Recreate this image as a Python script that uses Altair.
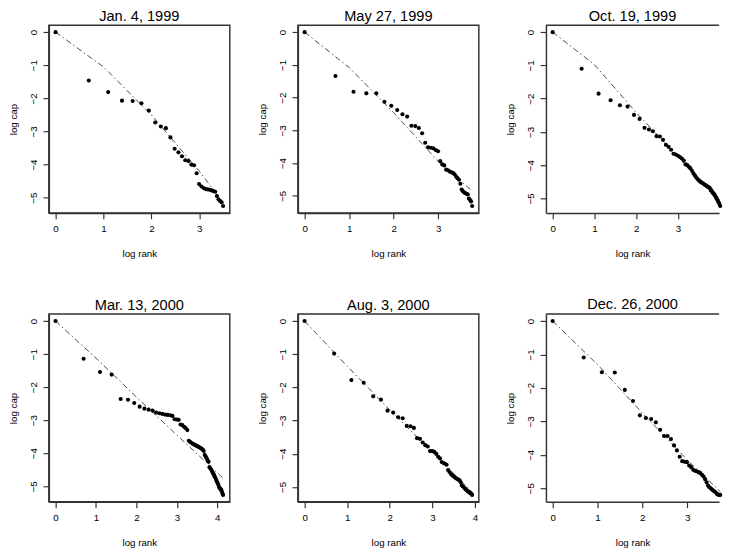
import altair as alt
import numpy as np
import pandas as pd

# ---- data (log cap by rank; x = log rank) ----
titles = ["Jan. 4, 1999", "May 27, 1999", "Oct. 19, 1999",
          "Mar. 13, 2000", "Aug. 3, 2000", "Dec. 26, 2000"]

cap_jan99 = [0, -1.46, -1.81, -2.07, -2.08, -2.15, -2.37, -2.73, -2.85, -2.90,
             -3.18, -3.52, -3.63, -3.75, -3.87, -3.89, -4.00, -4.02, -4.26, -4.59,
             -4.66, -4.71, -4.74, -4.75, -4.76, -4.78, -4.80, -4.82, -4.95, -5.05,
             -5.10, -5.14, -5.25]
cap_may99 = [0, -1.34, -1.82, -1.87, -1.87, -2.13, -2.25, -2.38, -2.51, -2.58,
             -2.86, -2.87, -2.93, -3.09, -3.38, -3.52, -3.53, -3.55, -3.60, -3.64,
             -3.94, -4.04, -4.07, -4.20, -4.22, -4.26, -4.28, -4.30, -4.34, -4.41,
             -4.46, -4.51, -4.63, -4.81, -4.86, -4.90, -4.92, -4.94, -4.96, -5.08,
             -5.13, -5.17, -5.31]
cap_oct99 = [0, -1.10, -1.85, -2.05, -2.20, -2.24, -2.49, -2.61, -2.88, -2.93,
             -2.98, -3.13, -3.14, -3.24, -3.39, -3.45, -3.54, -3.66, -3.68, -3.72,
             -3.76, -3.80, -3.86, -3.98, -4.00, -4.05, -4.10, -4.17, -4.25, -4.31,
             -4.37, -4.42, -4.46, -4.49, -4.52, -4.54, -4.56, -4.59, -4.61, -4.63,
             -4.65, -4.67, -4.70, -4.74, -4.79, -4.83, -4.86, -4.89, -4.94, -4.98,
             -5.03, -5.07, -5.12, -5.17, -5.23]
cap_mar00 = [0, -1.14, -1.54, -1.62, -2.36, -2.38, -2.48, -2.59, -2.65, -2.68,
             -2.71, -2.77, -2.79, -2.81, -2.83, -2.84, -2.85, -2.87, -2.97, -2.98,
             -2.99, -3.13, -3.15, -3.20, -3.24, -3.30, -3.62, -3.66, -3.69, -3.72,
             -3.74, -3.76, -3.78, -3.80, -3.82, -3.84, -3.86, -3.89, -3.93, -4.05,
             -4.10, -4.15, -4.22, -4.26, -4.42, -4.46, -4.50, -4.55, -4.60, -4.64,
             -4.70, -4.74, -4.80, -4.86, -4.90, -4.95, -5.02, -5.05, -5.08, -5.10,
             -5.15, -5.22, -5.26]
cap_aug00 = [0, -0.98, -1.78, -1.86, -2.27, -2.37, -2.70, -2.76, -2.90, -2.93,
             -3.16, -3.17, -3.22, -3.53, -3.55, -3.66, -3.74, -3.78, -3.92, -3.92,
             -3.94, -4.00, -4.09, -4.14, -4.25, -4.28, -4.30, -4.33, -4.49, -4.55,
             -4.61, -4.65, -4.68, -4.71, -4.74, -4.76, -4.78, -4.80, -4.86, -4.95,
             -4.98, -5.01, -5.05, -5.08, -5.10, -5.13, -5.15, -5.17, -5.19, -5.21,
             -5.24]
cap_dec00 = [0, -1.09, -1.53, -1.54, -2.06, -2.39, -2.82, -2.90, -2.93, -3.03,
             -3.25, -3.44, -3.44, -3.53, -3.72, -3.87, -4.06, -4.19, -4.21, -4.22,
             -4.32, -4.37, -4.45, -4.48, -4.50, -4.52, -4.55, -4.60, -4.65, -4.73,
             -4.82, -4.92, -4.97, -5.00, -5.04, -5.07, -5.10, -5.12, -5.17, -5.19,
             -5.20, -5.20]

# fitted reference curves (dash-dot), vertices
fit_x = [[0, 1, 2, 3, 3.50],
         [0, 1, 2, 3, 3.76],
         [0, 1, 2, 3, 4.01],
         [0, 1, 2, 3, 4.14],
         [0, 1, 2, 3, 3.93],
         [0, 1, 2, 3, 3.74]]
fit_y = [[0, -1.05, -2.50, -4.20, -5.15],
         [0, -1.08, -2.46, -3.95, -4.85],
         [0, -0.98, -2.42, -3.75, -5.15],
         [0, -1.12, -2.30, -3.45, -4.75],
         [0, -1.36, -2.68, -3.95, -5.15],
         [0, -1.30, -2.75, -4.15, -5.10]]

caps = [cap_jan99, cap_may99, cap_oct99, cap_mar00, cap_aug00, cap_dec00]
cropped = [False, False, True, False, False, True]

W, H = 186, 193
W_CROP = 178
FONT = "Liberation Sans"
FRAME = "#333333"
ONE = pd.DataFrame({"k": [0]})


def panel(i):
    ys = caps[i]
    n = len(ys)
    pts = pd.DataFrame({"rank": list(range(1, n + 1)), "cap": ys})
    fit = pd.DataFrame({"x": fit_x[i], "y": fit_y[i]})

    xmax = float(np.log(n))
    xlo, xhi = -0.04 * xmax, 1.04 * xmax
    width = W
    if cropped[i]:
        width = W_CROP
        xhi = xlo + (xhi - xlo) * W_CROP / W
    ymin = min(ys)
    ylo, yhi = ymin * 1.04, -0.04 * ymin

    xticks = [t for t in range(0, 5) if t <= xhi]
    xscale = alt.Scale(domain=[xlo, xhi], nice=False, zero=False)
    yscale = alt.Scale(domain=[ylo, yhi], nice=False, zero=False)
    xaxis = alt.Axis(values=xticks, title="log rank", format="d",
                     labelOverlap=False, minExtent=22, maxExtent=22, titlePadding=15)
    yaxis = alt.Axis(values=[0, -1, -2, -3, -4, -5], title="log cap", format="d",
                     labelOverlap=False, labelAngle=270,
                     minExtent=20, maxExtent=20, titlePadding=11)

    line = alt.Chart(fit).mark_line(color="#333333", strokeWidth=0.9,
                                    strokeDash=[6, 3, 1.5, 3]).encode(
        x=alt.X("x:Q", scale=xscale, axis=xaxis),
        y=alt.Y("y:Q", scale=yscale, axis=yaxis),
    )
    dots = alt.Chart(pts).transform_calculate(
        logrank="log(datum.rank)"
    ).mark_point(filled=True, color="black", size=18, opacity=1).encode(
        x=alt.X("logrank:Q", scale=xscale, axis=xaxis),
        y=alt.Y("cap:Q", scale=yscale, axis=yaxis),
    )
    layers = [line, dots]
    props = dict(width=width, height=H,
                 title=alt.TitleParams(titles[i], fontSize=15, font=FONT,
                                       fontWeight="normal", color="black", offset=1))
    if cropped[i]:
        # box cut off by the picture's right edge: no right side
        layers.append(alt.Chart(ONE).mark_rule(color=FRAME, strokeWidth=1.5).encode(
            x=alt.value(0), x2=alt.value(width), y=alt.value(0)))
        props["view"] = alt.ViewBackground(strokeOpacity=0)
    return alt.layer(*layers).properties(**props)


row1 = alt.hconcat(panel(0), panel(1), panel(2), spacing=27)
row2 = alt.hconcat(panel(3), panel(4), panel(5), spacing=27)

chart = alt.vconcat(row1, row2, spacing=39).properties(
    padding={"top": -7, "left": 0, "right": 0, "bottom": 0}, background="white"
).configure_view(
    stroke=FRAME, strokeWidth=1.5
).configure_axis(
    grid=False, domain=True, domainColor=FRAME, domainWidth=1.5,
    tickColor=FRAME, tickSize=6, tickWidth=1.2,
    labelFont=FONT, labelFontSize=10, labelColor="black", labelPadding=5,
    titleFont=FONT, titleFontSize=10, titleFontWeight="normal", titleColor="black",
)

chart.save("out.html", embed_options={"renderer": "svg", "actions": False})
